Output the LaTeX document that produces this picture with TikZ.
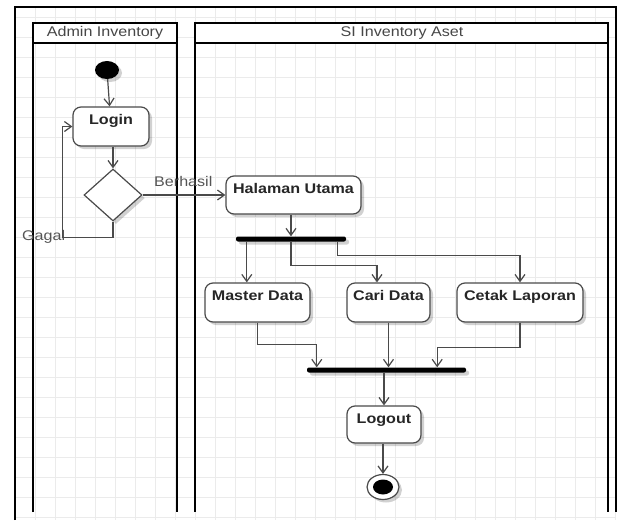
\documentclass[tikz,border=0pt]{standalone}
\usepackage{fontspec}
\newfontfamily\umlfont{Liberation Sans}[FakeStretch=1.15]
\usetikzlibrary{arrows.meta,shapes.geometric,shadows}
\definecolor{gridgray}{HTML}{EBEBEB}
\definecolor{linegray}{HTML}{4A4A4A}
\definecolor{textdark}{HTML}{262626}
\definecolor{labelgray}{HTML}{555555}
\begin{document}
\begin{tikzpicture}[x=1pt,y=-1pt,
  soft/.style={drop shadow={shadow xshift=3pt,shadow yshift=-3pt,opacity=0.18,fill=black}},
  act/.style={draw=linegray,line width=1.2pt,fill=white,rounded corners=8pt,
    font=\umlfont\fontsize{14}{16}\selectfont\bfseries,text=textdark,
    text height=13pt,text depth=18pt,inner ysep=4pt,inner xsep=0pt,soft},
  bar/.style={fill=black,draw=none,minimum height=5pt,inner sep=0pt,rounded corners=2pt,soft},
  flow/.style={draw=linegray,line width=1.2pt,-{Straight Barb[length=7pt,width=10pt]}},
  lanehead/.style={font=\umlfont\fontsize{14}{16}\selectfont,text=textdark!85},
  lbl/.style={font=\umlfont\fontsize{14}{16}\selectfont,text=labelgray,inner sep=0pt},
  frame/.style={line width=2.2pt,black}
]
\useasboundingbox (0,0) rectangle (624,520);

% background grid
\begin{scope}[gridgray,line width=0.8pt]
  \foreach \x in {35,55,...,615} \draw (\x,7) -- (\x,520);
  \foreach \y in {17,37,...,517} \draw (15,\y) -- (616,\y);
\end{scope}

% outer frame
\draw[frame] (15,520) -- (15,7) -- (616,7) -- (616,512);

% swimlanes
\draw[frame] (33,512) -- (33,23) -- (177,23) -- (177,512);
\draw[frame,fill=white] (33,23) rectangle (177,43);
\node[lanehead] (laneA) at (105,33) {Admin Inventory};
\draw[frame] (195,512) -- (195,23) -- (608,23) -- (608,512);
\draw[frame,fill=white] (195,23) rectangle (608,43);
\node[lanehead] (laneB) at (402,33) {SI Inventory Aset};

% activity nodes
\node[ellipse,fill=black,minimum width=24pt,minimum height=18pt,inner sep=0pt,soft] (start) at (107,70) {};
\node[act,minimum width=76pt] (login) at (111,126.5) {Login};
\node[diamond,draw=linegray,line width=1.2pt,fill=white,minimum width=58pt,minimum height=52pt,inner sep=0pt,soft] (dec) at (113,195) {};
\node[act,minimum width=135pt,text depth=17pt] (hal) at (293.5,195) {Halaman Utama};
\node[bar,minimum width=110pt] (fork) at (291,239) {};
\node[act,minimum width=105pt] (master) at (257.5,302.5) {Master Data};
\node[act,minimum width=83pt] (cari) at (388.5,302.5) {Cari Data};
\node[act,minimum width=126pt] (cetak) at (520,302.5) {Cetak Laporan};
\node[bar,minimum width=159pt] (join) at (386.5,370) {};
\node[act,minimum width=74pt,text depth=16pt] (logout) at (384,424.5) {Logout};
\node[ellipse,draw=linegray,line width=1.2pt,fill=white,minimum width=32pt,minimum height=25pt,inner sep=0pt,soft] (end) at (383,487) {};
\node[ellipse,fill=black,minimum width=20pt,minimum height=15pt,inner sep=0pt] (endin) at (end) {};

% guard labels
\node[lbl,anchor=west] (lblok) at (154,181) {Berhasil};
\node[lbl,anchor=west] (lblfail) at (22,237) {Gagal};

% control flow
\draw[flow] (start) -- (login);
\draw[flow] (login.south -| dec.north) -- (dec.north);
\draw[flow] (dec.east) -- (hal.west);
\draw[flow] (dec.south) -- ++(0,16) -| ([xshift=-10pt]login.west) -- (login.west);
\draw[flow] (hal.south -| fork.north) -- (fork.north);
\draw[flow] ([xshift=11pt]fork.south west) -- ([xshift=11pt]fork.south west |- master.north);
\draw[flow] (fork.south) -- ++(0,24) -| ([xshift=-11.5pt]cari.north);
\draw[flow] ([xshift=-9pt]fork.south east) -- ++(0,14) -| (cetak.north);
\draw[flow] (master.south) -- ++(0,22) -| ([xshift=10pt]join.north west);
\draw[flow] (cari.south) -- (cari.south |- join.north);
\draw[flow] (cetak.south) -- ++(0,25) -| ([xshift=-29pt]join.north east);
\draw[flow] (join.south -| logout.north) -- (logout.north);
\draw[flow] (logout.south -| end.north) -- (end.north);
\end{tikzpicture}
\end{document}
